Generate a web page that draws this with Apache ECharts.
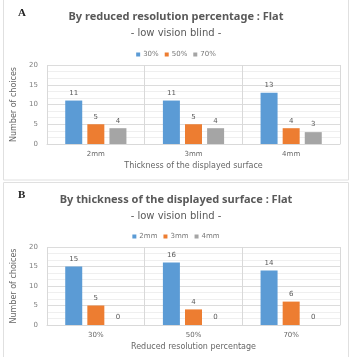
<!DOCTYPE html>
<html>
<head>
<meta charset="utf-8">
<script src="https://cdn.jsdelivr.net/npm/echarts@6/dist/echarts.min.js"></script>
<style>
  html, body { margin: 0; padding: 0; background: #fff; }
  #chart { width: 352px; height: 357px; }
</style>
</head>
<body>
<div id="chart"></div>
<script>
document.addEventListener('DOMContentLoaded', function () {
    const chart = echarts.init(document.getElementById('chart'));

    // Panel A: by reduced resolution percentage
    const thickness = ['2mm', '3mm', '4mm'];
    const pct30 = [11, 11, 13];
    const pct50 = [5, 5, 4];
    const pct70 = [4, 4, 3];

    // Panel B: by thickness of the displayed surface
    const resolution = ['30%', '50%', '70%'];
    const mm2 = [15, 16, 14];
    const mm3 = [5, 4, 6];
    const mm4 = [0, 0, 0];

    const colors = ['#5b9bd5', '#ed7d31', '#a5a5a5'];
    const font = '"Noto Sans", sans-serif';
    const wide = '"DejaVu Sans", sans-serif';
    const textGray = '#595959';

    function barSeries(name, data, idx, color) {
        return {
            name: name,
            type: 'bar',
            xAxisIndex: idx,
            yAxisIndex: idx,
            data: data,
            barWidth: 17,
            barGap: '30%',
            itemStyle: { color: color },
            label: {
                show: true,
                position: 'top',
                distance: 4,
                fontSize: 7,
                color: textGray,
                fontFamily: wide
            }
        };
    }

    function xAxisFor(idx, cats, name) {
        return {
            type: 'category',
            gridIndex: idx,
            data: cats,
            name: name,
            nameLocation: 'middle',
            nameGap: 18,
            nameTextStyle: { fontSize: 8, color: '#666', fontFamily: wide },
            axisLine: { lineStyle: { color: '#d9d9d9' } },
            axisTick: { show: false },
            splitLine: { show: true, lineStyle: { color: '#d9d9d9' } },
            axisLabel: { fontSize: 7, color: '#666', fontFamily: wide, margin: 7 }
        };
    }

    function yAxisFor(idx) {
        return {
            type: 'value',
            gridIndex: idx,
            min: 0,
            max: 20,
            interval: 5,
            name: 'Number of choices',
            nameLocation: 'middle',
            nameGap: 16,
            nameTextStyle: { fontSize: 8, color: '#666', fontFamily: wide },
            axisLine: { show: false },
            axisTick: { show: false },
            axisLabel: { fontSize: 7, color: '#7f7f7f', fontFamily: wide, margin: 9 },
            splitLine: { lineStyle: { color: '#dcdcdc' } },
            minorTick: { show: false, splitNumber: 3 },
            minorSplitLine: { show: true, lineStyle: { color: '#efefef' } }
        };
    }

    const option = {
        animation: false,
        textStyle: { fontFamily: font },
        graphic: [
            {
                type: 'rect',
                shape: { x: 3.5, y: -5, width: 345, height: 185 },
                style: { fill: 'none', stroke: '#e0e0e0', lineWidth: 1 }
            },
            {
                type: 'rect',
                shape: { x: 3.5, y: 182.5, width: 345, height: 185 },
                style: { fill: 'none', stroke: '#e0e0e0', lineWidth: 1 }
            }
        ],
        title: [
            {
                text: 'A', left: 13, top: 3,
                textStyle: { fontSize: 11, fontWeight: 'bold', color: '#222', fontFamily: '"Liberation Serif", serif' }
            },
            {
                text: 'By reduced resolution percentage : Flat', left: 'center', top: 6,
                textStyle: { fontSize: 11, fontWeight: 'bold', color: textGray, fontFamily: font }
            },
            {
                text: '- low vision blind -', left: 'center', top: 23,
                textStyle: { fontSize: 10, fontWeight: 'normal', color: textGray, fontFamily: wide }
            },
            {
                text: 'B', left: 13, top: 185,
                textStyle: { fontSize: 11, fontWeight: 'bold', color: '#222', fontFamily: '"Liberation Serif", serif' }
            },
            {
                text: 'By thickness of the displayed surface : Flat', left: 'center', top: 189,
                textStyle: { fontSize: 11, fontWeight: 'bold', color: textGray, fontFamily: font }
            },
            {
                text: '- low vision blind -', left: 'center', top: 206,
                textStyle: { fontSize: 10, fontWeight: 'normal', color: textGray, fontFamily: wide }
            }
        ],
        legend: [
            {
                data: ['30%', '50%', '70%'],
                top: 46, left: 'center',
                itemWidth: 4, itemHeight: 4, itemGap: 6,
                icon: 'rect',
                textStyle: { fontSize: 7, color: '#777', fontFamily: wide, padding: [0, 0, 0, -2] }
            },
            {
                data: ['2mm', '3mm', '4mm'],
                top: 228, left: 'center',
                itemWidth: 4, itemHeight: 4, itemGap: 6,
                icon: 'rect',
                textStyle: { fontSize: 7, color: '#777', fontFamily: wide, padding: [0, 0, 0, -2] }
            }
        ],
        grid: [
            { left: 47, right: 12, top: 65, height: 79 },
            { left: 47, right: 12, top: 247, height: 78 }
        ],
        xAxis: [
            xAxisFor(0, thickness, 'Thickness of the displayed surface'),
            xAxisFor(1, resolution, 'Reduced resolution percentage')
        ],
        yAxis: [yAxisFor(0), yAxisFor(1)],
        series: [
            barSeries('30%', pct30, 0, colors[0]),
            barSeries('50%', pct50, 0, colors[1]),
            barSeries('70%', pct70, 0, colors[2]),
            barSeries('2mm', mm2, 1, colors[0]),
            barSeries('3mm', mm3, 1, colors[1]),
            barSeries('4mm', mm4, 1, colors[2])
        ]
    };

    chart.setOption(option);

    window.addEventListener('resize', function () {
        chart.resize();
    });
});
</script>
</body>
</html>
